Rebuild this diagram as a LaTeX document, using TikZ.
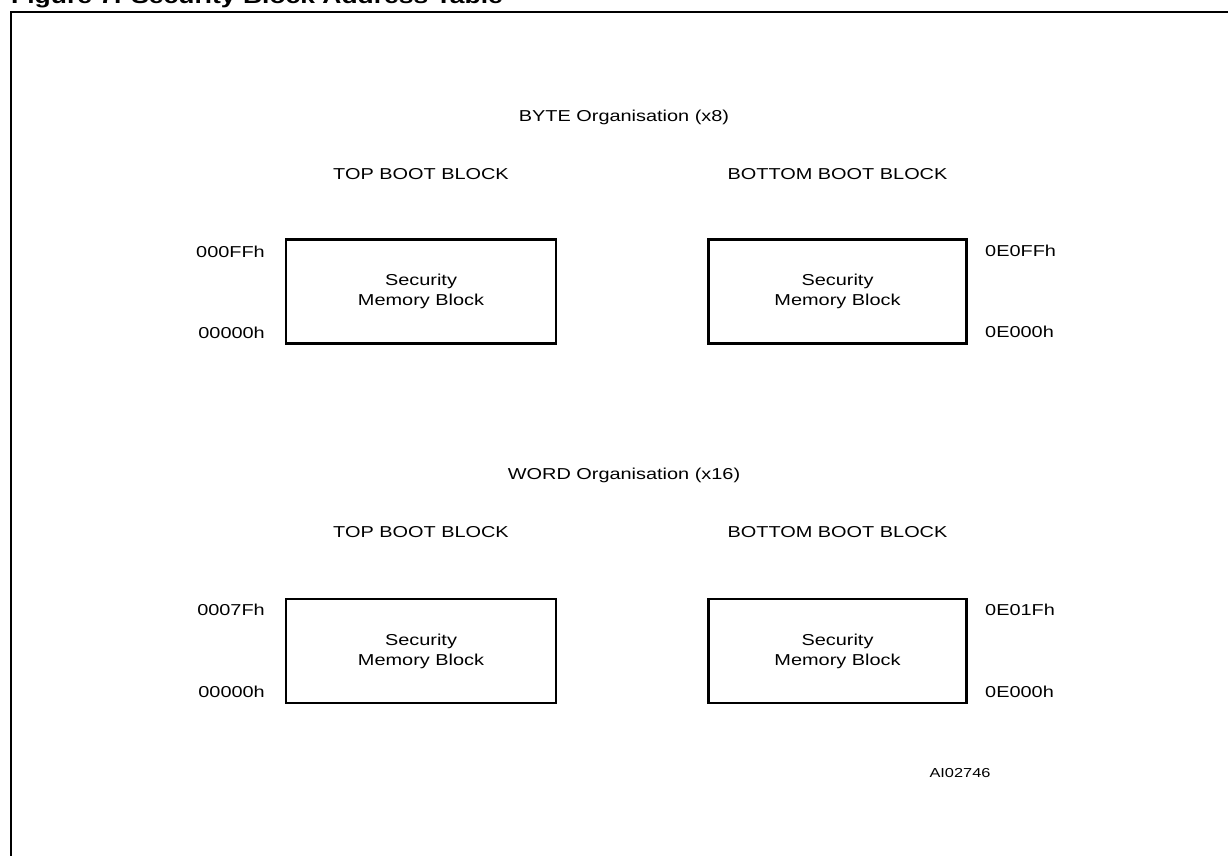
\documentclass[tikz,border=0pt]{standalone}
\usepackage{fontspec}
\setmainfont{Liberation Sans}[FakeStretch=1.26]
\begin{document}
\begin{tikzpicture}[x=1pt,y=-1pt,
  txt/.style={font=\fontsize{15.8}{20}\selectfont, inner sep=0pt},
  lbl/.style={txt},
  memblk/.style={draw, line width=2.4pt, inner sep=0pt, align=center,
    font=\fontsize{15.8}{20}\selectfont, minimum height=104pt},
  frame/.style={line width=2.4pt}]
\useasboundingbox (0,0) rectangle (1228,855);
\clip (0,0) rectangle (1228,855);
% frame and title
\draw[frame] (11,880) coordinate (fbl) -- (11,12) coordinate (ftl) -- (1260,12) coordinate (ftr);
\node[anchor=base west, inner sep=0pt, font=\fontsize{21}{24}\selectfont\bfseries] (title) at (11,3.5) {Figure 7. Security Block Address Table};
% BYTE organisation
\node[txt, anchor=base] (byte) at (624,121) {BYTE Organisation (x8)};
\node[txt, anchor=base] (top1) at (421,179) {TOP BOOT BLOCK};
\node[txt, anchor=base] (bot1) at (837.5,179) {BOTTOM BOOT BLOCK};
\node[memblk, minimum width=270pt] (b1) at (421,291.5) {Security\\Memory Block};
\node[memblk, minimum width=258pt] (b2) at (837.5,291.5) {Security\\Memory Block};
\node[lbl, anchor=base east] (a1h) at (265,257) {000FFh};
\node[lbl, anchor=base east] (a1l) at (265,338) {00000h};
\node[lbl, anchor=base west] (a2h) at (985,256) {0E0FFh};
\node[lbl, anchor=base west] (a2l) at (985,337) {0E000h};
% WORD organisation
\node[txt, anchor=base] (word) at (624,479) {WORD Organisation (x16)};
\node[txt, anchor=base] (top2) at (421,537) {TOP BOOT BLOCK};
\node[txt, anchor=base] (bot2) at (837.5,537) {BOTTOM BOOT BLOCK};
\node[memblk, minimum width=270pt] (b3) at (421,651) {Security\\Memory Block};
\node[memblk, minimum width=258pt] (b4) at (837.5,651) {Security\\Memory Block};
\node[lbl, anchor=base east] (a3h) at (265,615) {0007Fh};
\node[lbl, anchor=base east] (a3l) at (265,697) {00000h};
\node[lbl, anchor=base west] (a4h) at (985,615) {0E01Fh};
\node[lbl, anchor=base west] (a4l) at (985,697) {0E000h};
% code
\node[anchor=base, inner sep=0pt, font=\fontsize{13}{15}\selectfont] (code) at (960,777) {AI02746};
\end{tikzpicture}
\end{document}
